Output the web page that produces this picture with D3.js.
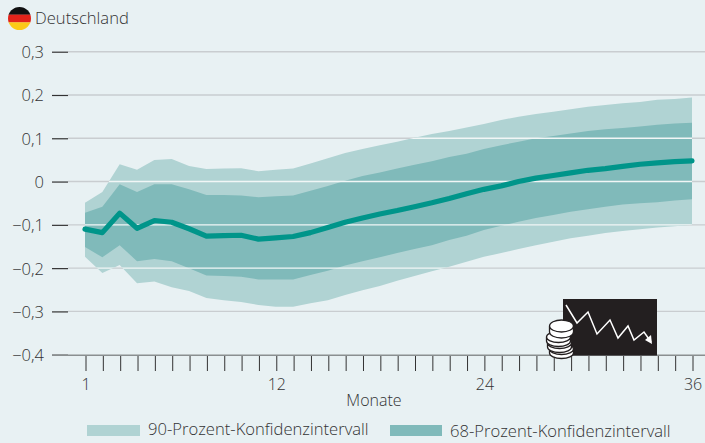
<!DOCTYPE html>
<html><head><meta charset="utf-8">
<script src="https://cdnjs.cloudflare.com/ajax/libs/d3/7.8.5/d3.min.js"></script>
<style>html,body{margin:0;padding:0;background:#e8f1f3}svg{display:block}text{font-family:"Open Sans",sans-serif;font-weight:300;fill:#333}</style>
</head><body><svg id="c" width="705" height="443"></svg>
<script>
const months = d3.range(1, 37);
const yTicks = [0.3,0.2,0.1,0,-0.1,-0.2,-0.3,-0.4];
const xLabels = [1,12,24,36];
const upper90 = [-0.049,-0.024,0.040,0.027,0.050,0.052,0.036,0.029,0.030,0.031,0.024,0.027,0.030,0.042,0.054,0.066,0.075,0.084,0.092,0.101,0.110,0.117,0.125,0.133,0.142,0.150,0.156,0.161,0.167,0.173,0.177,0.181,0.184,0.189,0.191,0.194];
const upper68 = [-0.072,-0.058,-0.006,-0.024,-0.006,-0.006,-0.018,-0.031,-0.031,-0.032,-0.036,-0.034,-0.032,-0.021,-0.010,0.002,0.013,0.021,0.030,0.039,0.047,0.057,0.064,0.075,0.084,0.092,0.100,0.105,0.111,0.117,0.121,0.124,0.127,0.131,0.134,0.136];
const lower68 = [-0.151,-0.175,-0.147,-0.184,-0.179,-0.184,-0.200,-0.217,-0.218,-0.220,-0.226,-0.226,-0.226,-0.216,-0.206,-0.194,-0.184,-0.175,-0.165,-0.156,-0.147,-0.135,-0.125,-0.112,-0.102,-0.093,-0.084,-0.077,-0.070,-0.064,-0.058,-0.053,-0.050,-0.048,-0.044,-0.041];
const lower90 = [-0.174,-0.211,-0.193,-0.235,-0.231,-0.244,-0.253,-0.269,-0.274,-0.278,-0.285,-0.289,-0.289,-0.281,-0.274,-0.262,-0.251,-0.241,-0.229,-0.218,-0.207,-0.197,-0.185,-0.174,-0.165,-0.156,-0.147,-0.139,-0.131,-0.125,-0.119,-0.114,-0.110,-0.106,-0.103,-0.100];
const median = [-0.110,-0.118,-0.073,-0.108,-0.090,-0.094,-0.109,-0.126,-0.125,-0.124,-0.133,-0.130,-0.127,-0.118,-0.106,-0.094,-0.084,-0.075,-0.067,-0.058,-0.049,-0.039,-0.028,-0.018,-0.010,0.000,0.008,0.014,0.020,0.026,0.030,0.035,0.040,0.043,0.046,0.048];
const legendLabels = ["90-Prozent-Konfidenzintervall","68-Prozent-Konfidenzintervall"];
const title = "Deutschland", xTitle = "Monate";

const C = {band90:"#b0d3d3", band68:"#80baba", line:"#00958a", grid:"#c9cdd0", tick:"#333", axis:"#8a8f90"};
const svg = d3.select("#c");
const x = d3.scaleLinear().domain([1,36]).range([85,692]);
const y = d3.scaleLinear().domain([-0.4,0.3]).range([354.7,51.7]);
const fmt = v => (v<0?"−":"") + String(Math.abs(v)).replace(".",",");

// grid
svg.append("g").selectAll("line").data(yTicks.slice(0,-1)).join("line")
  .attr("x1",68).attr("x2",705).attr("y1",d=>y(d)).attr("y2",d=>y(d))
  .attr("stroke",C.grid).attr("stroke-width",1.4);

// bands
const area = (lo,hi)=>d3.area().x((d,i)=>x(months[i])).y0((d,i)=>y(lo[i])).y1((d,i)=>y(hi[i]));
const outer = area(lower90,upper90)(months);
svg.append("path").attr("d",outer).attr("fill",C.band90);
svg.append("path").attr("d",area(lower68,upper68)(months)).attr("fill",C.band68);

// white grid over the bands
svg.append("clipPath").attr("id","bandClip").append("path").attr("d",outer);
svg.append("g").attr("clip-path","url(#bandClip)").selectAll("line").data(yTicks.slice(0,-1)).join("line")
  .attr("x1",68).attr("x2",705).attr("y1",d=>y(d)).attr("y2",d=>y(d))
  .attr("stroke","#f1f6f6").attr("stroke-width",1.4);

// median line
svg.append("path").attr("d",d3.line().x((d,i)=>x(months[i])).y(d=>y(d))(median))
  .attr("fill","none").attr("stroke",C.line).attr("stroke-width",5.2)
  .attr("stroke-linecap","round").attr("stroke-linejoin","round");

// y axis
const gy = svg.append("g").attr("transform","translate(68,0)")
  .call(d3.axisLeft(y).tickValues(yTicks).tickSize(16).tickPadding(8).tickFormat(fmt));
gy.select(".domain").remove();
gy.selectAll("line").attr("stroke",C.tick).attr("stroke-width",1.2);
gy.selectAll("text").attr("font-size",16.5).style("font-family",'"Open Sans",sans-serif').attr("dy","0.36em");

// x axis
const gx = svg.append("g").attr("transform","translate(0.5,355)")
  .call(d3.axisBottom(x).tickValues(months).tickSize(16).tickPadding(8)
    .tickFormat(d=>xLabels.includes(d)?d:""));
gx.select(".domain").remove();
gx.selectAll("line").attr("stroke",C.tick).attr("stroke-width",1);
gx.selectAll("text").attr("font-size",16).style("font-family",'"Open Sans",sans-serif');
svg.append("line").attr("x1",52).attr("x2",705).attr("y1",355.3).attr("y2",355.3).attr("stroke",C.axis).attr("stroke-width",1.4);

svg.append("text").attr("x",374).attr("y",405.5).attr("text-anchor","middle").attr("font-size",16).text(xTitle);

// title + flag
svg.append("clipPath").attr("id","flag").append("circle").attr("cx",19.5).attr("cy",18.5).attr("r",11.5);
const fg = svg.append("g").attr("clip-path","url(#flag)");
["#111","#e2231a","#fcc917"].forEach((c,i)=>fg.append("rect").attr("x",8).attr("y",7+i*7.67).attr("width",23).attr("height",7.8).attr("fill",c));
svg.append("text").attr("x",35).attr("y",24).attr("font-size",16.6).text(title);

// legend
const lg = [{x:87,tx:148,c:C.band90,ty:435},{x:390,tx:450,c:C.band68,ty:437}];
lg.forEach((d,i)=>{
  svg.append("rect").attr("x",d.x).attr("y",425).attr("width",i?52:53).attr("height",11).attr("fill",d.c);
  svg.append("text").attr("x",d.tx).attr("y",d.ty).attr("font-size",16.6).text(legendLabels[i]);
});

// icon: black panel, falling chart, coins
const ic = svg.append("g");
ic.append("rect").attr("x",563).attr("y",299).attr("width",94).attr("height",56.5).attr("fill","#231f20");
ic.append("polyline").attr("points","566,305 577,323 588,312 597,334 610,320 618,338 628,326 634,340 644,332 651,342")
  .attr("fill","none").attr("stroke","#fff").attr("stroke-width",1.5);
ic.append("path").attr("d","M652,344 L645,340 L651,335 Z").attr("fill","#fff");
[[561.5,351,12,5.5],[559.5,345,12,5.5],[558.5,339,12,5.5],[561.5,328,12,6]].forEach(([cx,cy,rx,ry],i)=>{
  ic.append("path").attr("d",`M${cx-rx},${cy-2} v${i==3?6:4} a${rx},${ry} 0 0 0 ${2*rx},0 v-${i==3?6:4} a${rx},${ry} 0 0 0 ${-2*rx},0 a${rx},${ry} 0 0 0 ${2*rx},0`)
    .attr("fill","#fff").attr("stroke","#231f20").attr("stroke-width",1.3);
});
</script></body></html>
